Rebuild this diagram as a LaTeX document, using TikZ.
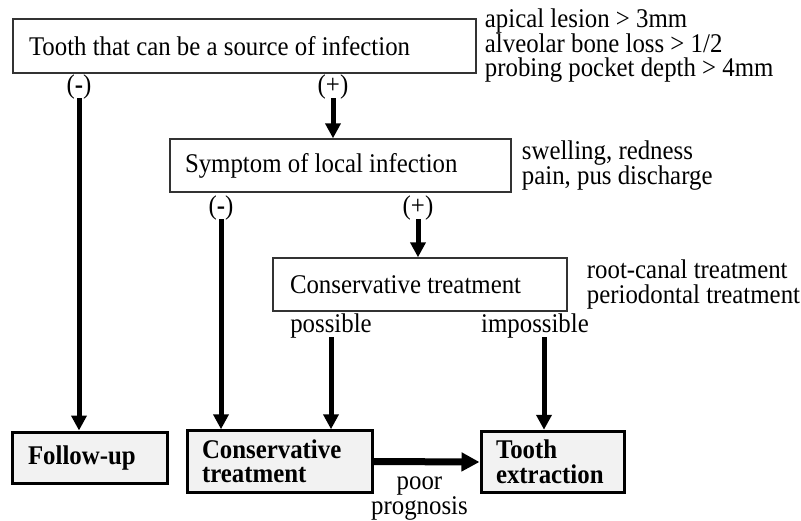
\documentclass[tikz,border=0pt]{standalone}
\usepackage{fontspec}
\setmainfont{Liberation Serif}[FakeStretch=0.92]
\usetikzlibrary{arrows.meta, positioning}
\tikzset{
    % thin boxes on top, bold boxes at the bottom
    infobox/.style = {rectangle, draw=black!80, line width=1.4pt, fill=white, align=flush left, minimum height=54pt},
    endbox/.style = {rectangle, draw=black, line width=3pt, fill=black!5, align=flush left, font=\bfseries},
    arrow/.style = {line width=5pt, -{Triangle[length=15pt, width=15pt]}}
}

\begin{document}
\fontsize{27}{24.5}\selectfont
\begin{tikzpicture}[x=1pt, y=-1pt]
\tikzset{
  note/.style={inner sep=0pt, align=left},
  sign/.style={inner sep=0pt},
  bigarrow/.style={line width=7pt, -{Triangle[length=18pt, width=18pt]}}
}
\useasboundingbox (0,0) rectangle (801,520);

\node[infobox, text width=431pt, inner xsep=16pt] (tooth) at (244.5,46) {Tooth that can be a source of infection};
\node[note, right=8pt of tooth] (toothnote) {apical lesion > 3mm\\alveolar bone loss > 1/2\\probing pocket depth > 4mm};

\node[infobox, text width=311pt, inner xsep=15pt, minimum height=53pt] (symptom) at (340.5,165.5) {Symptom of local infection};
\node[note, right=10pt of symptom] (symptomnote) {swelling, redness\\pain, pus discharge};

\node[infobox, text width=260pt, inner xsep=17pt, minimum height=53pt] (conserv) at (420,284.5) {Conservative treatment};
\node[note, right=19pt of conserv] (conservnote) {root-canal treatment\\periodontal treatment};

\node[sign] (minusA) at (79,87) {(\textbf{-})};
\node[sign] (plusA) at (333,87) {(+)};
\node[sign] (minusB) at (221,208) {(\textbf{-})};
\node[sign] (plusB) at (418,208) {(+)};
\node[sign] (possible) at (331,326) {possible};
\node[sign] (impossible) at (535,326) {impossible};

\node[endbox, text width=123pt, inner xsep=16pt, minimum height=51pt] (followup) at (89.5,457.5) {Follow-up};
\node[endbox, text width=155pt, inner xsep=15pt, minimum height=59pt] (consfinal) at (279.5,461.5) {Conservative\\treatment};
\node[endbox, text width=113pt, inner xsep=15pt, minimum height=60pt] (extraction) at (552.5,462) {Tooth\\extraction};

\draw[arrow] ([yshift=1pt]minusA.south) -- (minusA.south |- followup.north);
\draw[arrow] ([yshift=1pt]plusA.south) -- (plusA.south |- symptom.north);
\draw[arrow] ([yshift=1pt]minusB.south) -- (minusB.south |- consfinal.north);
\draw[arrow] ([yshift=1pt]plusB.south) -- (plusB.south |- conserv.north);
\draw[arrow] ([yshift=1pt]possible.south) -- (possible.south |- consfinal.north);
\draw[arrow] ([xshift=9pt,yshift=1pt]impossible.south) -- ([xshift=9pt]impossible.south |- extraction.north);
\draw[bigarrow] (consfinal.east) -- (extraction.west) node[midway, below=3pt, xshift=-7pt, align=center] (prognosis) {poor\\prognosis};

\end{tikzpicture}
\end{document}
